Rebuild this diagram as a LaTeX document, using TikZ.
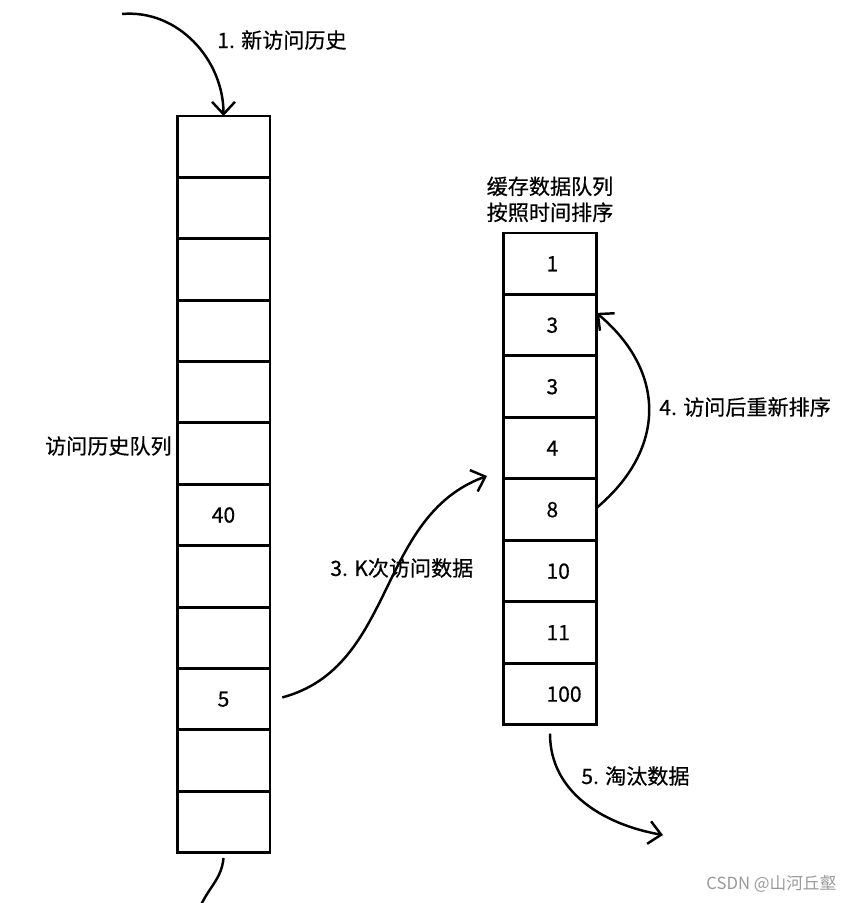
\documentclass[tikz,border=0pt]{standalone}
\usepackage{fontspec}
\setmainfont[FakeBold=0.5]{Noto Sans CJK SC}
\newfontfamily\markfont{Noto Sans CJK SC}
\usetikzlibrary{positioning,arrows.meta}
\tikzset{
    queue-cell/.style = {draw, rectangle, line width=1.7pt, minimum width=1.86cm, minimum height=1.228cm, inner sep=0pt, outer sep=0pt},
    step-label/.style = {anchor=west, inner sep=0pt, font=\fontsize{12}{14.8}\selectfont},
    flow-arrow/.style = {line width=1.4pt, -{Straight Barb[length=7pt,width=13pt]}},
}
\newcommand{\cellnum}[1]{\makebox[0pt][l]{\kern-2pt #1}}

\begin{document}
\begin{tikzpicture}[x=0.02cm, y=0.02cm, font=\fontsize{12}{14}\selectfont]
\useasboundingbox (0,0) rectangle (859,903);
% history queue
\node [queue-cell] (h1) at (223.5,756.3) {};
\node [queue-cell, below=0pt of h1] (h2) {};
\node [queue-cell, below=0pt of h2] (h3) {};
\node [queue-cell, below=0pt of h3] (h4) {};
\node [queue-cell, below=0pt of h4] (h5) {};
\node [queue-cell, below=0pt of h5] (h6) {};
\node [queue-cell, below=0pt of h6] (h7) {40};
\node [queue-cell, below=0pt of h7] (h8) {};
\node [queue-cell, below=0pt of h8] (h9) {};
\node [queue-cell, below=0pt of h9] (h10) {5};
\node [queue-cell, below=0pt of h10] (h11) {};
\node [queue-cell, below=0pt of h11] (h12) {};
\node [step-label, anchor=east] (hist-title) at (172,457) {访问历史队列};

% cache queue
\node [queue-cell, minimum height=1.23cm] (c1) at (550,639.25) {\cellnum{1}};
\node [queue-cell, minimum height=1.23cm, below=0pt of c1] (c2) {\cellnum{3}};
\node [queue-cell, minimum height=1.23cm, below=0pt of c2] (c3) {\cellnum{3}};
\node [queue-cell, minimum height=1.23cm, below=0pt of c3] (c4) {\cellnum{4}};
\node [queue-cell, minimum height=1.23cm, below=0pt of c4] (c5) {\cellnum{8}};
\node [queue-cell, minimum height=1.23cm, below=0pt of c5] (c6) {\cellnum{10}};
\node [queue-cell, minimum height=1.23cm, below=0pt of c6] (c7) {\cellnum{11}};
\node [queue-cell, minimum height=1.23cm, below=0pt of c7] (c8) {\cellnum{100}};
\node [step-label, anchor=south, align=center, above=6pt of c1] (cache-title) {缓存数据队列\\按照时间排序};

% steps
\coordinate (new-start) at (122,889);
\draw [flow-arrow] (new-start) to[out=5, in=90] (h1.north);
\node [step-label] (new-label) at (217,863) {1. 新访问历史};

\coordinate (tail-end) at (201,-2);
\draw [line width=1.4pt] ([yshift=-3pt]h12.south) to[out=-95, in=65] (tail-end);

\coordinate (k-end) at (487,427);
\draw [flow-arrow] ([xshift=7pt, yshift=1pt]h10.east) to[out=15, in=200] (k-end);
\node [step-label] (k-label) at (330,335) {3. K次访问数据};

\draw [flow-arrow] ([yshift=1pt]c5.east) to[out=40, in=-40, looseness=1.2] ([yshift=7pt]c2.east);
\node [step-label] (sort-label) at (659,496) {4. 访问后重新排序};

\coordinate (evict-end) at (663,68);
\draw [flow-arrow] ([yshift=-5pt]c8.south) to[out=-90, in=170] (evict-end);
\node [step-label] (evict-label) at (581,127) {5. 淘汰数据};

\node [anchor=west, inner sep=0pt, text=gray!80, font=\markfont\fontsize{9.5}{11}\selectfont] (mark) at (706,19) {CSDN @山河丘壑};
\end{tikzpicture}
\end{document}
